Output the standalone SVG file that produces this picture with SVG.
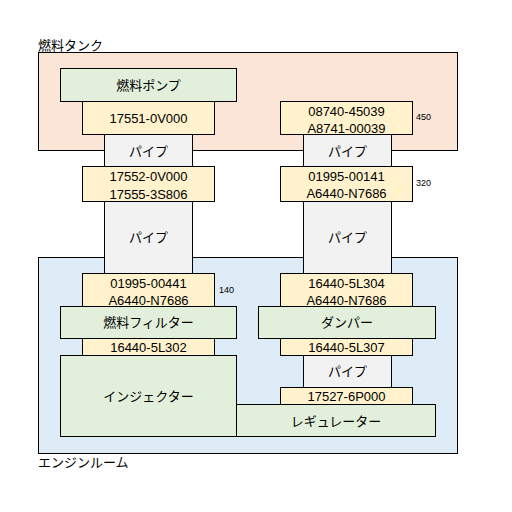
<svg xmlns="http://www.w3.org/2000/svg" width="512" height="512" viewBox="0 0 512 512">
<style>
rect{stroke:#000;stroke-width:1}
.tank{fill:#fbe5d6}
.room{fill:#ddebf7}
.g{fill:#e2efda}
.y{fill:#fff2cc}
.p{fill:#f2f2f2}
text{font-family:"Liberation Sans","Noto Sans CJK JP",sans-serif;font-size:13px;fill:#000;text-anchor:middle;dominant-baseline:central}
.t{text-anchor:start}
.s{font-size:9px;text-anchor:start}
</style>
<g id="tank"><rect class="tank" x="38.5" y="52.5" width="419" height="98"/><text class="t" x="38" y="45">燃料タンク</text></g>
<g id="engine-room"><rect class="room" x="38.5" y="257.5" width="419" height="196"/><text class="t" x="38" y="462">エンジンルーム</text></g>
<g id="pipe-l1"><rect class="p" x="104.5" y="134.5" width="88" height="32"/><text x="148.5" y="151">パイプ</text></g>
<g id="pipe-l2"><rect class="p" x="104.5" y="201.5" width="88" height="72"/><text x="148.5" y="237">パイプ</text></g>
<g id="pipe-r1"><rect class="p" x="303.5" y="134.5" width="88" height="32"/><text x="347.5" y="151">パイプ</text></g>
<g id="pipe-r2"><rect class="p" x="303.5" y="201.5" width="88" height="72"/><text x="347.5" y="237">パイプ</text></g>
<g id="pipe-r3"><rect class="p" x="303.5" y="355.5" width="88" height="32"/><text x="347.5" y="371">パイプ</text></g>
<g id="fuel-pump"><rect class="g" x="60.5" y="68.5" width="176" height="33"/><text x="148.5" y="85">燃料ポンプ</text></g>
<g id="p17551"><rect class="y" x="82.5" y="101.5" width="132" height="33"/><text x="148.5" y="118">17551-0V000</text></g>
<g id="p17552"><rect class="y" x="82.5" y="166.5" width="132" height="35"/><text x="148.5" y="176">17552-0V000</text><text x="148.5" y="194">17555-3S806</text></g>
<g id="p08740"><rect class="y" x="280.5" y="101.5" width="132" height="33"/><text x="346.5" y="111">08740-45039</text><text x="346.5" y="128">A8741-00039</text><text class="s" x="416" y="117">450</text></g>
<g id="p01995-00141"><rect class="y" x="280.5" y="166.5" width="132" height="35"/><text x="346.5" y="176">01995-00141</text><text x="346.5" y="193">A6440-N7686</text><text class="s" x="416" y="183">320</text></g>
<g id="p01995-00441"><rect class="y" x="82.5" y="273.5" width="132" height="33"/><text x="148.5" y="283">01995-00441</text><text x="148.5" y="300">A6440-N7686</text><text class="s" x="219" y="290">140</text></g>
<g id="p16440-5L304"><rect class="y" x="280.5" y="273.5" width="132" height="33"/><text x="346.5" y="283">16440-5L304</text><text x="346.5" y="300">A6440-N7686</text></g>
<g id="fuel-filter"><rect class="g" x="60.5" y="306.5" width="176" height="32"/><text x="148.5" y="322">燃料フィルター</text></g>
<g id="damper"><rect class="g" x="258.5" y="306.5" width="177" height="32"/><text x="347" y="322">ダンパー</text></g>
<g id="p16440-5L302"><rect class="y" x="82.5" y="338.5" width="132" height="17"/><text x="148.5" y="347">16440-5L302</text></g>
<g id="p16440-5L307"><rect class="y" x="280.5" y="338.5" width="132" height="17"/><text x="346.5" y="347">16440-5L307</text></g>
<g id="injector"><rect class="g" x="60.5" y="355.5" width="176" height="81"/><text x="148.5" y="396">インジェクター</text></g>
<g id="p17527"><rect class="y" x="280.5" y="387.5" width="132" height="17"/><text x="346.5" y="396">17527-6P000</text></g>
<g id="regulator"><rect class="g" x="236.5" y="404.5" width="199" height="32"/><text x="336" y="421">レギュレーター</text></g>
</svg>
